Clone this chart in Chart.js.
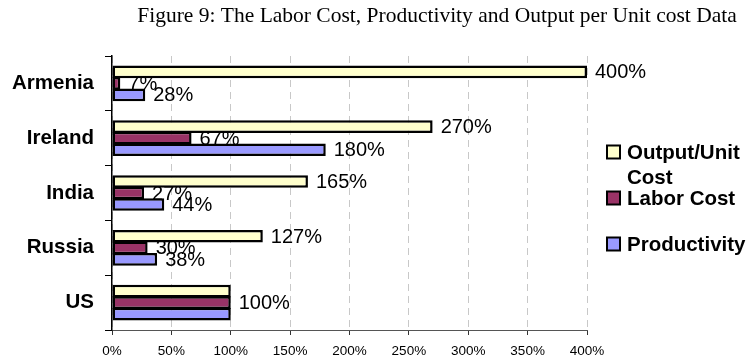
<!DOCTYPE html>
<html>
<head>
<meta charset="utf-8">
<title>Labor Cost, Productivity and Output per Unit Cost</title>
<script src="https://cdn.jsdelivr.net/npm/chart.js@4/dist/chart.umd.min.js"></script>
<style>
  html, body { margin: 0; padding: 0; background: #ffffff; }
  #wrap { width: 749px; height: 358px; position: relative; }
</style>
</head>
<body>
<div id="wrap"><canvas id="chart" width="749" height="358"></canvas></div>
<script>
// Countries, top to bottom
const categories = ['Armenia', 'Ireland', 'India', 'Russia', 'US'];

// Values in percent of the US level
const outputPerUnitCost = [400, 270, 165, 127, 100];
const laborCost = [7, 67, 27, 30, 100];
const productivity = [28, 180, 44, 38, 100];

// Series names (legend lines) and the value axis
const seriesNames = ['Output/Unit Cost', 'Labor Cost', 'Productivity'];
const legendLines = [['Output/Unit', 'Cost'], ['Labor Cost'], ['Productivity']];
const axisMin = 0;
const axisMax = 400;
const axisStep = 50;
const titleText = 'Figure 9: The Labor Cost, Productivity and Output per Unit cost Data';

// The three US values coincide, so their value label is printed once (on the middle bar)
const skipLabel = { 0: [4], 2: [4] };

const SANS = "'Liberation Sans', Arial, Helvetica, sans-serif";
const SERIF = "'Liberation Serif', 'Times New Roman', Times, serif";
Chart.defaults.font.family = SANS;

const fills = ['#ffffcc', '#993366', '#9999ff'];

const titlePlugin = {
  id: 'figureTitle',
  afterDraw(chart) {
    const ctx = chart.ctx;
    ctx.save();
    ctx.font = '21.5px ' + SERIF;
    ctx.fillStyle = '#000';
    ctx.textAlign = 'center';
    ctx.textBaseline = 'alphabetic';
    ctx.fillText(titleText, 437, 22);
    ctx.restore();
  }
};

const valueLabelPlugin = {
  id: 'valueLabels',
  afterDatasetsDraw(chart) {
    const ctx = chart.ctx;
    ctx.save();
    ctx.font = '20px ' + SANS;
    ctx.fillStyle = '#000';
    ctx.textAlign = 'left';
    ctx.textBaseline = 'middle';
    chart.data.datasets.forEach((ds, di) => {
      const meta = chart.getDatasetMeta(di);
      meta.data.forEach((bar, i) => {
        if (skipLabel[di] && skipLabel[di].includes(i)) return;
        ctx.fillText(ds.data[i] + '%', bar.x + 8, bar.y + 1);
      });
    });
    ctx.restore();
  }
};

const legendPlugin = {
  id: 'sideLegend',
  afterDraw(chart) {
    const ctx = chart.ctx;
    const boxX = 607, textX = 627, firstY = 152, pitch = 46, lineH = 25, box = 13;
    ctx.save();
    ctx.font = 'bold 20.5px ' + SANS;
    ctx.textAlign = 'left';
    ctx.textBaseline = 'middle';
    chart.data.datasets.forEach((ds, di) => {
      const cy = firstY + di * pitch;
      ctx.fillStyle = ds.backgroundColor;
      ctx.fillRect(boxX, cy - box / 2, box, box);
      ctx.lineWidth = 2;
      ctx.strokeStyle = '#000';
      ctx.strokeRect(boxX, cy - box / 2, box, box);
      ctx.fillStyle = '#000';
      legendLines[di].forEach((line, li) => {
        ctx.fillText(line, textX, cy + 1 + li * lineH);
      });
    });
    ctx.restore();
  }
};

const series = [outputPerUnitCost, laborCost, productivity];

new Chart(document.getElementById('chart'), {
  type: 'bar',
  data: {
    labels: categories,
    datasets: series.map((values, i) => ({
      label: seriesNames[i],
      data: values,
      backgroundColor: fills[i],
      borderColor: '#000',
      borderWidth: 2.5,
      borderSkipped: false,
      categoryPercentage: 0.63,
      barPercentage: 1.1
    }))
  },
  options: {
    indexAxis: 'y',
    responsive: false,
    animation: false,
    devicePixelRatio: 1,
    layout: { padding: { top: 56, right: 162, left: 0, bottom: 0 } },
    plugins: {
      legend: { display: false },
      title: { display: false },
      tooltip: { enabled: false }
    },
    scales: {
      x: {
        min: axisMin,
        max: axisMax,
        afterFit(scale) { scale.height = 28; },
        ticks: {
          stepSize: axisStep,
          color: '#000',
          font: { size: 13.5 },
          padding: 8,
          maxRotation: 0,
          callback: (v) => v + '%'
        },
        grid: {
          color: '#c8c8c8',
          lineWidth: 1,
          drawTicks: true,
          tickLength: 5,
          tickColor: '#333'
        },
        border: { color: '#555', width: 1, dash: [7, 5] }
      },
      y: {
        afterFit(scale) { scale.width = 112; },
        ticks: {
          color: '#000',
          font: { size: 20.5, weight: 'bold' },
          padding: 11
        },
        grid: {
          offset: true,
          drawOnChartArea: false,
          drawTicks: true,
          tickLength: 7,
          color: '#000',
          tickColor: '#000'
        },
        border: { color: '#000', width: 1.5 }
      }
    }
  },
  plugins: [titlePlugin, valueLabelPlugin, legendPlugin]
});
</script>
</body>
</html>
